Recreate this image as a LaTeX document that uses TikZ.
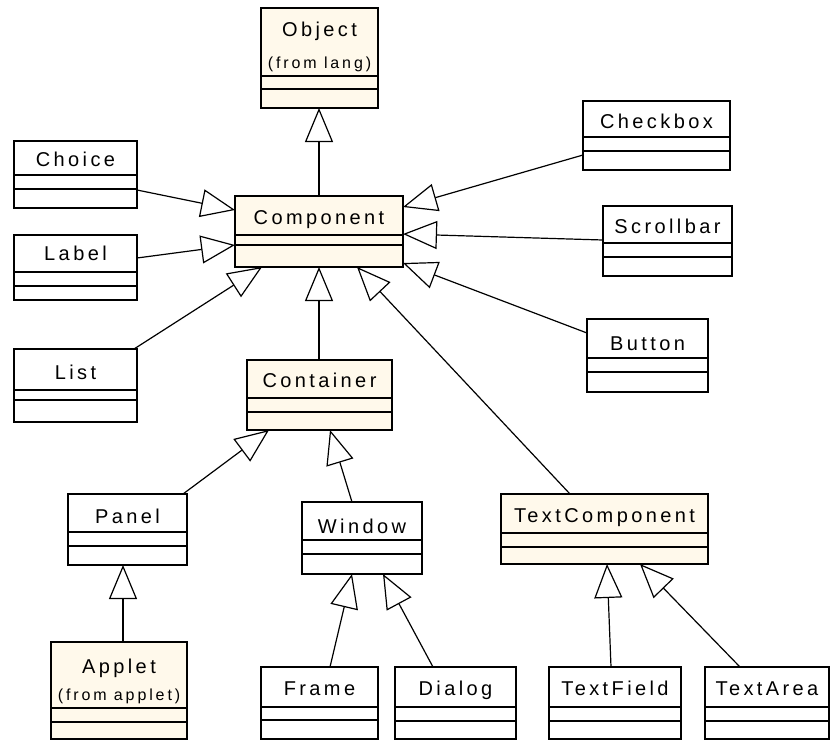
\documentclass[tikz,border=0pt]{standalone}
\usepackage{fontspec}
\usetikzlibrary{arrows.meta}
\newfontfamily\umlfont[LetterSpace=17]{Liberation Sans}
\newfontfamily\umlsmallfont[LetterSpace=18]{Liberation Sans}
\definecolor{classfill}{RGB}{255,249,235}

\tikzset{
  classbox/.style={draw=black, line width=1.6pt, rectangle, inner sep=0pt, outer sep=0pt},
  divider/.style={line width=1.4pt},
  classname/.style={font=\umlfont\fontsize{20}{23}\selectfont, inner sep=0pt, anchor=base},
  origin/.style={font=\umlsmallfont\fontsize{16}{19}\selectfont, inner sep=0pt, anchor=base},
  gen/.style={line width=1.2pt, -{Triangle[open, length=34pt, width=28pt, line width=1.2pt]}}
}

% UML class: [fill]{name}{x1}{y1}{x2}{y2}{divider 1}{divider 2}{baseline of name}
\newcommand\umlclass[9][white]{%
  \node[classbox, fill=#1, minimum width={#5-#3}, minimum height={#6-#4}] (#2)
    at ({(#3+#5)/2},{(#4+#6)/2}) {};
  \draw[divider] (#2.west |- 0,#7) -- (#2.east |- 0,#7);
  \draw[divider] (#2.west |- 0,#8) -- (#2.east |- 0,#8);
  \node[classname] (#2-name) at ({(#3+#5)/2},#9) {#2};
}

\begin{document}
\begin{tikzpicture}[x=1pt, y=-1pt]
  \fill[white] (0,0) rectangle (830,740);
  \useasboundingbox (0,0) rectangle (830,740);

  % classes
  \umlclass[classfill]{Object}{261}{8}{378}{108}{76}{89}{36}
  \node[origin] (Object-origin) at (319.5,68) {(from lang)};

  \umlclass{Choice}{14}{141}{137}{208}{175}{189}{166}
  \umlclass{Label}{14}{235}{137}{300}{272}{286}{260}
  \umlclass{List}{14}{349}{137}{422}{390}{400}{379}
  \umlclass[classfill]{Component}{235}{196}{403}{267}{235}{245}{224}
  \umlclass[classfill]{Container}{247}{360}{392}{430}{398}{412}{387}
  \umlclass{Checkbox}{583}{101}{730}{170}{137}{151}{128}
  \umlclass{Scrollbar}{603}{206}{732}{276}{243}{257}{233}
  \umlclass{Button}{587}{319}{708}{392}{358}{372}{350}
  \umlclass{Panel}{68}{494}{187}{565}{532}{546}{523}
  \umlclass{Window}{302}{502}{422}{574}{540}{554}{533}
  \umlclass[classfill]{TextComponent}{501}{494}{708}{564}{533}{547}{522}

  \umlclass[classfill]{Applet}{51}{642}{187}{739}{708}{722}{673}
  \node[origin] (Applet-origin) at (119,700) {(from applet)};
  \umlclass{Frame}{261}{667}{378}{739}{707}{720}{695}
  \umlclass{Dialog}{395}{667}{516}{739}{707}{721}{695}
  \umlclass{TextField}{549}{667}{681}{739}{707}{721}{695}
  \umlclass{TextArea}{705}{667}{829}{739}{707}{721}{695}

  % generalizations
  \draw[gen] (Component.north -| 319,0) -- (Object.south -| 319,0);
  \draw[gen] (Choice.east |- 0,190) -- (Component.west |- 0,210);
  \draw[gen] (Label.east |- 0,258) -- (Component.west |- 0,245);
  \draw[gen] (List.north -| 134,0) -- (Component.south -| 262,0);
  \draw[gen] (Checkbox.west |- 0,155) -- (Component.east |- 0,207);
  \draw[gen] (Scrollbar.west |- 0,240) -- (Component.east |- 0,234);
  \draw[gen] (Button.west |- 0,333) -- (Component.east |- 0,263);
  \draw[gen] (TextComponent.north -| 570,0) -- (Component.south -| 357,0);
  \draw[gen] (Container.north -| 319,0) -- (Component.south -| 319,0);

  \draw[gen] (Panel.north -| 183,0) -- (Container.south -| 269,0);
  \draw[gen] (Window.north -| 352,0) -- (Container.south -| 330,0);
  \draw[gen] (Applet.north -| 123,0) -- (Panel.south -| 123,0);

  \draw[gen] (Frame.north -| 330,0) -- (Window.south -| 352,0);
  \draw[gen] (Dialog.north -| 433,0) -- (Window.south -| 383,0);
  \draw[gen] (TextField.north -| 611,0) -- (TextComponent.south -| 607,0);
  \draw[gen] (TextArea.north -| 740,0) -- (TextComponent.south -| 640,0);
\end{tikzpicture}
\end{document}
